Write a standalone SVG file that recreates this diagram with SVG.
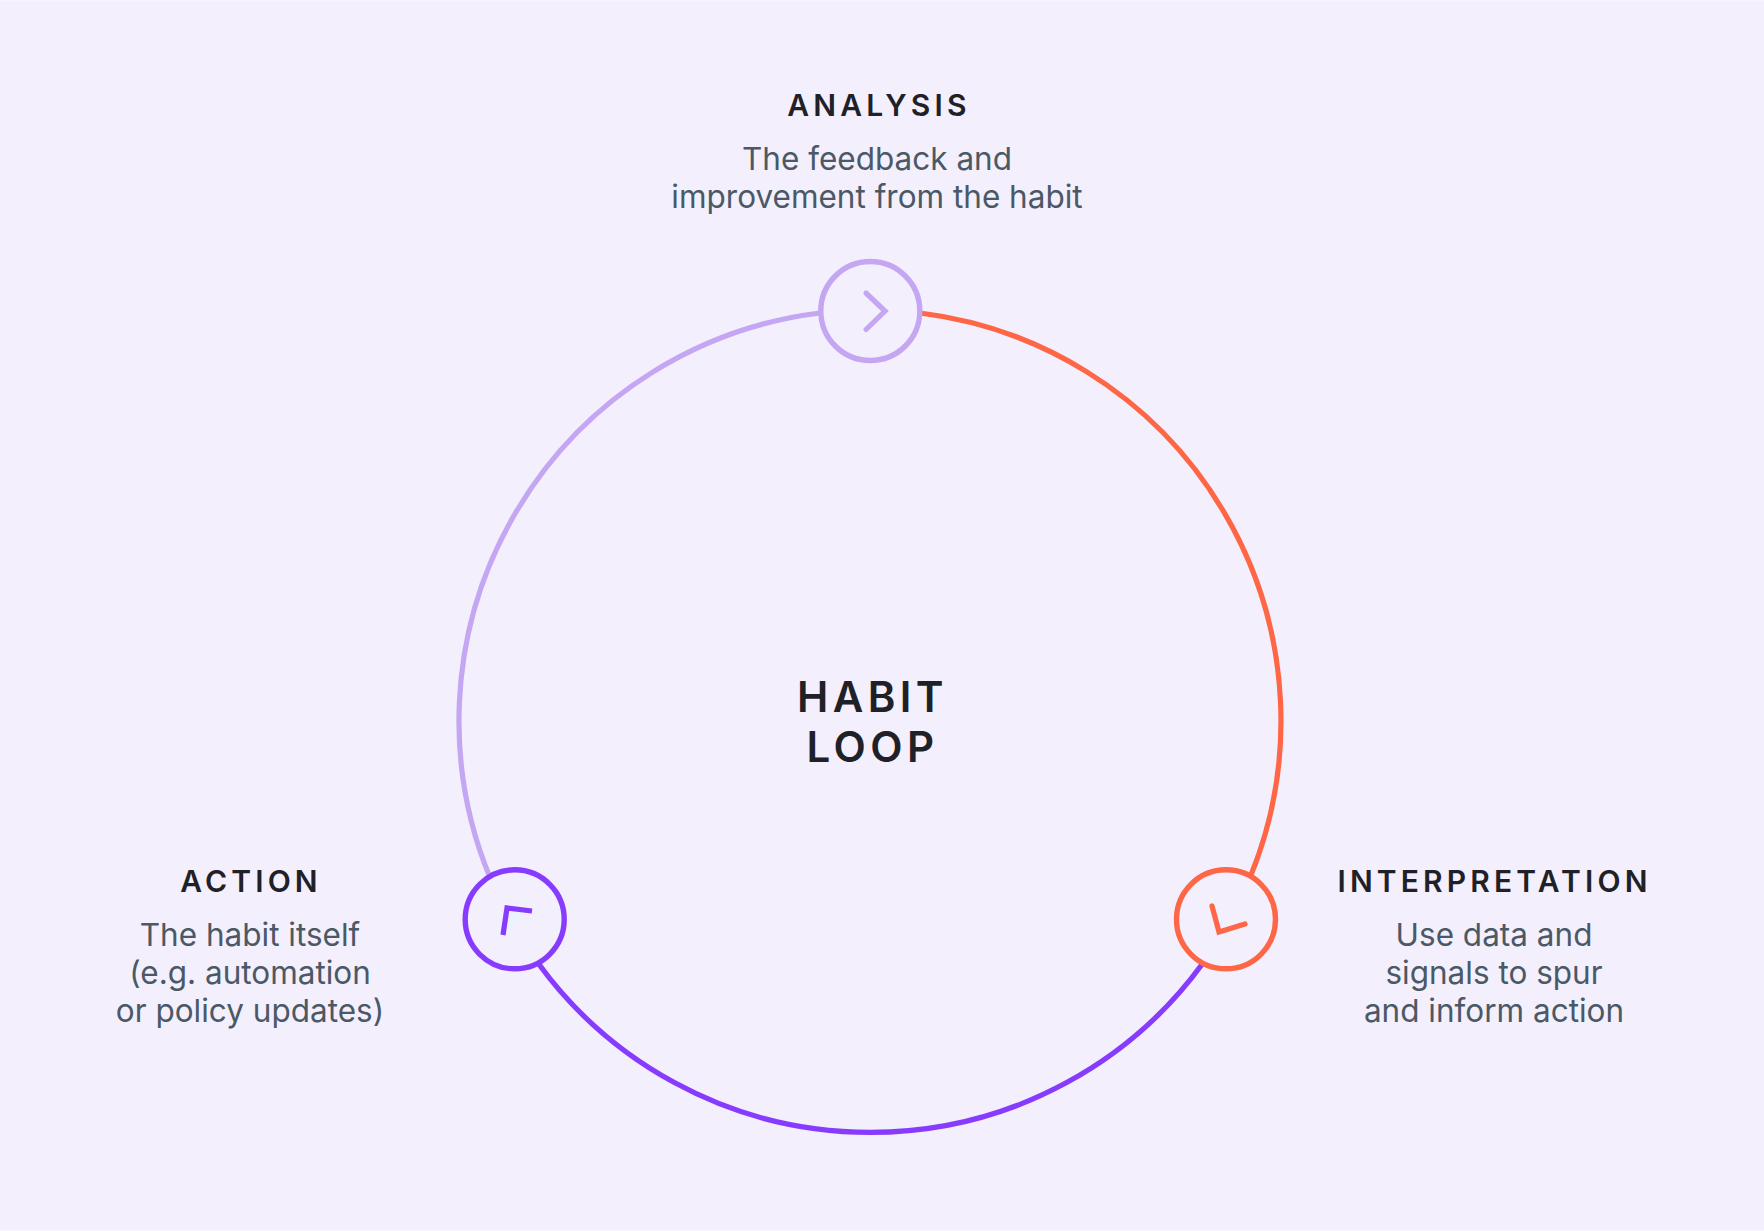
<svg xmlns="http://www.w3.org/2000/svg" width="1764" height="1231" viewBox="0 0 1764 1231">
<style>
.h{font-family:Inter,"Liberation Sans",sans-serif;font-weight:600;font-size:30px;letter-spacing:4.15px;fill:#1f2126;text-anchor:middle}
.c{font-family:Inter,"Liberation Sans",sans-serif;font-weight:600;font-size:42px;letter-spacing:4.4px;fill:#1f2126;text-anchor:middle}
.b{font-family:Inter,"Liberation Sans",sans-serif;font-weight:400;font-size:31.5px;fill:#4b5865;text-anchor:middle}
.arc{fill:none;stroke-width:5.2}
.n{fill:#f3effd;stroke-width:5.4}
.i{fill:none;stroke-width:5.2}
</style>
<rect width="1764" height="1231" fill="#f9f7fe"/>
<rect y="0.6" width="1764" height="1229.4" fill="#f3effd"/>
<g id="connectors">
<path class="arc" stroke="#c4a6f3" d="M820 313A411 411 0 0 0 490 877.6"/>
<path class="arc" stroke="#ff6645" d="M920 313A411 411 0 0 1 1251 875"/>
<path class="arc" stroke="#873bff" d="M538 963A411 411 0 0 0 1203 963"/>
</g>
<g id="center"><text class="c" x="872.5" y="712">HABIT</text><text class="c" x="872.5" y="762">LOOP</text></g>
<g id="analysis">
<circle class="n" stroke="#c4a6f3" cx="870.3" cy="311" r="49.5"/>
<path class="i" stroke="#c4a6f3" stroke-linecap="round" d="M866 293L885 311L866 329.500"/>
<text class="h" x="879" y="116">ANALYSIS</text>
<text class="b" x="877" y="170">The feedback and</text>
<text class="b" x="877" y="207.700">improvement from the habit</text>
</g>
<g id="action">
<circle class="n" stroke="#873bff" cx="514.7" cy="919.3" r="49.5"/>
<path d="M507 908L532 911L503 935Z" fill="#ecf2fe"/>
<path class="i" stroke="#873bff" d="M503 935L507 908L532 911"/>
<text class="h" x="251" y="892">ACTION</text>
<text class="b" x="250" y="946">The habit itself</text>
<text class="b" x="250" y="983.700">(e.g. automation</text>
<text class="b" x="250" y="1021.500">or policy updates)</text>
</g>
<g id="interpretation">
<circle class="n" stroke="#ff6645" cx="1226" cy="919.3" r="49.5"/>
<path class="i" stroke="#ff6645" stroke-linecap="round" d="M1212 906L1219 932L1245 924"/>
<text class="h" x="1494.500" y="892">INTERPRETATION</text>
<text class="b" x="1494" y="946">Use data and</text>
<text class="b" x="1494" y="983.700">signals to spur</text>
<text class="b" x="1494" y="1021.500">and inform action</text>
</g>
</svg>
